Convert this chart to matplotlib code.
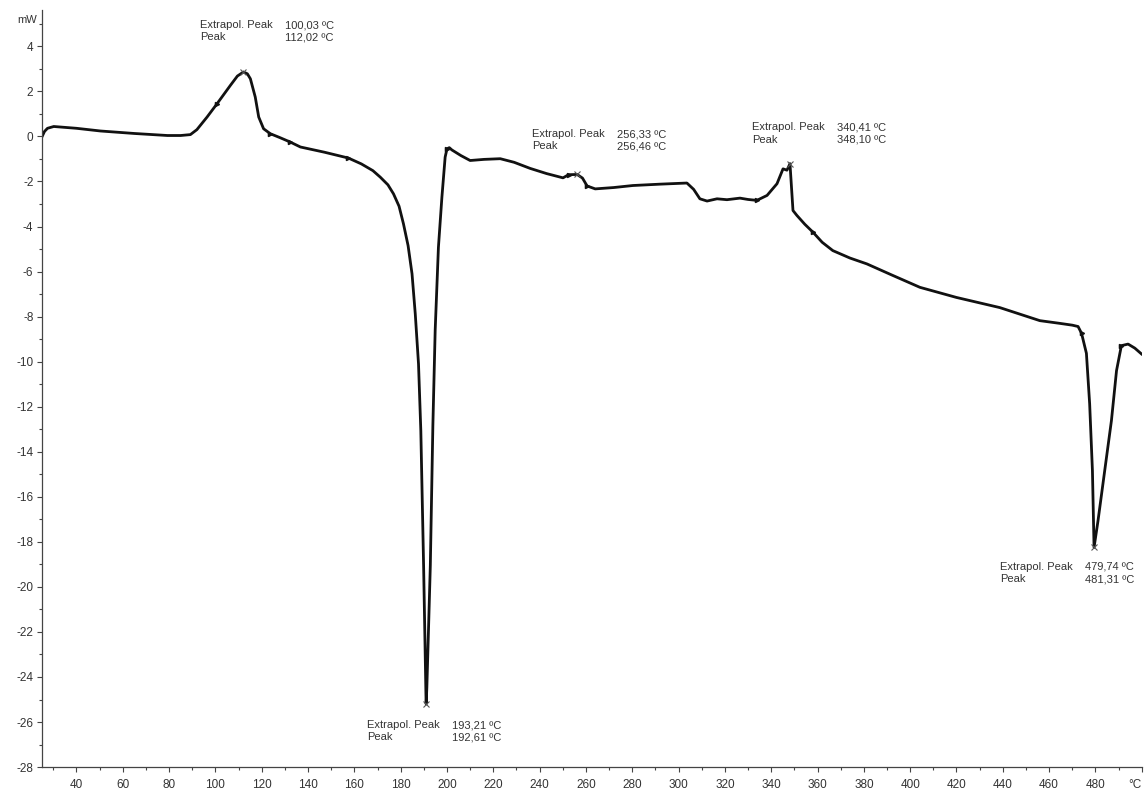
import numpy as np
import matplotlib
matplotlib.use("Agg")
import matplotlib.pyplot as plt
from matplotlib.ticker import MultipleLocator, FixedLocator

plt.rcParams['font.family'] = ['Liberation Sans', 'DejaVu Sans']
plt.rcParams['axes.unicode_minus'] = False

# DSC-Kurve (Temperatur in °C, Wärmestrom in mW)
temp = [25.2, 26.2, 27.5, 30.2, 40.0, 50.4, 65.0, 79.3, 85.0, 89.2, 92.0, 96.4, 100.7, 106.5,
        109.5, 112.1, 113.8, 115.1, 117.2, 118.7, 120.8, 123.7, 128.0, 132.3, 136.7, 147.0,
        157.4, 163.0, 168.0, 171.2, 174.5, 176.9, 179.3, 181.2, 183.2, 184.9, 186.3, 187.7,
        188.7, 189.9, 190.9, 191.0, 191.3, 192.8, 193.9, 194.9, 196.3, 197.8, 199.2, 200.0,
        201.0, 202.1, 206.0, 210.0, 216.0, 223.0, 229.0, 235.9, 243.0, 250.1, 252.5, 256.2,
        258.5, 260.5, 264.0, 272.0, 280.3, 292.0, 303.6, 306.5, 309.2, 312.3, 316.6, 320.9,
        326.5, 330.0, 333.8, 338.2, 342.5, 345.1, 346.8, 348.1, 349.4, 351.1, 354.5, 358.0,
        362.0, 366.6, 374.0, 381.3, 392.0, 404.2, 420.0, 438.7, 456.0, 464.6, 470.0, 472.5,
        474.0, 476.1, 477.5, 478.7, 479.4, 481.1, 484.0, 486.9, 489.1, 491.2, 494.1, 497.0,
        499.9]
heat_flow = [0.00, 0.22, 0.36, 0.44, 0.36, 0.24, 0.13, 0.04, 0.04, 0.08, 0.30, 0.86, 1.45, 2.27,
             2.68, 2.86, 2.78, 2.56, 1.75, 0.86, 0.34, 0.12, -0.06, -0.25, -0.47, -0.70,
             -0.96, -1.22, -1.52, -1.81, -2.15, -2.55, -3.10, -3.88, -4.85, -6.10, -7.88, -10.10,
             -13.07, -19.06, -24.76, -25.20, -24.47, -19.06, -12.84, -8.60, -4.92, -2.70, -0.92, -0.55,
             -0.50, -0.60, -0.85, -1.07, -1.02, -0.99, -1.15, -1.42, -1.65, -1.84, -1.70, -1.69,
             -1.85, -2.20, -2.33, -2.27, -2.18, -2.12, -2.07, -2.35, -2.77, -2.87, -2.77, -2.81,
             -2.74, -2.80, -2.84, -2.62, -2.10, -1.44, -1.50, -1.21, -3.29, -3.51, -3.90, -4.25,
             -4.70, -5.07, -5.40, -5.66, -6.15, -6.70, -7.15, -7.60, -8.18, -8.30, -8.38, -8.44,
             -8.74, -9.63, -11.87, -14.84, -18.25, -17.07, -14.84, -12.62, -10.40, -9.29, -9.22, -9.40,
             -9.66]

# Auswertepunkte
peak_temp = [112.1, 191.0, 256.2, 348.1, 479.4]
flag_temp = [100.7, 123.7, 132.3, 157.4, 200.0, 252.5, 260.5, 333.8, 358.0, 474.0, 491.2]

# Beschriftungen der Peaks
ann_extrapol = ['100,03', '193,21', '256,33', '340,41', '479,74']
ann_peak = ['112,02', '192,61', '256,46', '348,10', '481,31']
ann_x = [93.5, 165.4, 236.6, 331.6, 438.7]
ann_y = [4.67, -26.41, -0.17, 0.13, -19.38]

x_ticks = list(range(40, 501, 20))
x_labels = [str(v) for v in x_ticks[:-1]] + ['°C']
y_ticks = list(range(-28, 5, 2))

fig = plt.figure(figsize=(11.46, 7.90), dpi=100)
ax = fig.add_axes([0.0364, 0.029, 0.9599, 0.958])

ax.plot(temp, heat_flow, color='#111111', linewidth=2.0, solid_joinstyle='round')

t_arr = np.array(temp)
h_arr = np.array(heat_flow)
ax.plot(peak_temp, np.interp(peak_temp, t_arr, h_arr), linestyle='none', marker='x',
        markersize=5, markeredgewidth=0.8, color='#555555')
ax.plot(flag_temp, np.interp(flag_temp, t_arr, h_arr), linestyle='none', marker='>',
        markersize=3, color='#111111')

for i in range(len(ann_x)):
    ax.text(ann_x[i], ann_y[i], 'Extrapol. Peak\nPeak', fontsize=8, color='#333333',
            ha='left', va='center', linespacing=1.3)
    ax.text(ann_x[i] + 36.7, ann_y[i], ann_extrapol[i] + ' ºC\n' + ann_peak[i] + ' ºC',
            fontsize=8, color='#333333', ha='left', va='center', linespacing=1.3)

ax.set_xlim(25, 500)
ax.set_ylim(-28, 5.6)
ax.xaxis.set_major_locator(FixedLocator(x_ticks))
ax.set_xticklabels(x_labels)
ax.get_xticklabels()[-1].set_horizontalalignment('right')
ax.xaxis.set_minor_locator(MultipleLocator(10))
ax.yaxis.set_major_locator(FixedLocator(y_ticks))
ax.yaxis.set_minor_locator(MultipleLocator(1))

ax.text(-0.004, 5.15, 'mW', transform=ax.get_yaxis_transform(), fontsize=8,
        color='#333333', ha='right', va='center')

for side in ['top', 'right']:
    ax.spines[side].set_visible(False)
for side in ['left', 'bottom']:
    ax.spines[side].set_color('#444444')
    ax.spines[side].set_linewidth(0.9)

ax.tick_params(which='major', length=3.5, width=0.8, color='#444444',
               labelsize=8.5, labelcolor='#333333')
ax.tick_params(which='minor', length=2.5, width=0.8, color='#444444')
ax.tick_params(axis='x', which='major', pad=5)
ax.tick_params(axis='y', which='major', pad=2.5)

fig.savefig('out.png', dpi=100)
